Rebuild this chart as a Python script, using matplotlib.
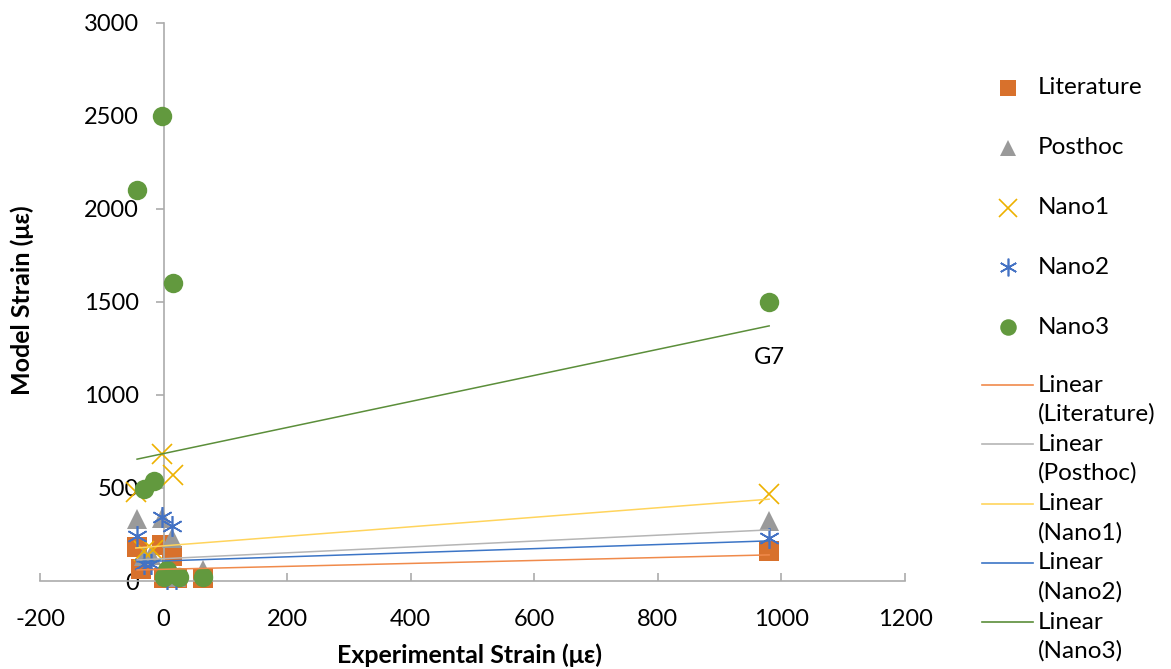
import numpy as np
import matplotlib.pyplot as plt
from matplotlib.lines import Line2D

plt.rcParams['font.family'] = ['Lato', 'DejaVu Sans']
plt.rcParams['axes.unicode_minus'] = False

# experimental vs model strain per gauge, one pair of lists per model
lit_x = [-43, -36, -3, 1, 14, 22, 63, 980]
lit_y = [183, 65, 196, 15, 135, 15, 15, 160]
post_x = [-43, -32, -20, -3, 14, 20, 63, 980]
post_y = [331, 135, 140, 340, 232, 20, 60, 320]
nano1_x = [-45, -32, -18, -2, 15, 980]
nano1_y = [480, 160, 165, 680, 570, 470]
nano2_x = [-43, -32, -21, -3, 14, 5, 20, 980]
nano2_y = [243, 90, 90, 345, 297, 10, 10, 232]
nano3_x = [-43, -3, 15, 980, -32, -16, 6, 0, 25, 63]
nano3_y = [2100, 2500, 1600, 1500, 493, 540, 61, 20, 20, 20]

# linear trend coefficients (slope, intercept)
trend_slope = [0.079, 0.158, 0.256, 0.110, 0.700]
trend_icpt = [63, 120, 189, 108, 685]

names = ['Literature', 'Posthoc', 'Nano1', 'Nano2', 'Nano3']
xs = [lit_x, post_x, nano1_x, nano2_x, nano3_x]
ys = [lit_y, post_y, nano1_y, nano2_y, nano3_y]
marker_colors = ['#D8712C', '#9A9A9A', '#EDB100', '#4472C4', '#62993E']
line_colors = ['#F08A4B', '#B5B5B5', '#FFD45C', '#3C75C6', '#5B8E3A']
markers = ['s', '^', 'x', (6, 2, 0), 'o']
msizes = [14, 14, 15, 15, 14]
stroked = [False, False, True, True, False]

fig = plt.figure(figsize=(11.71, 6.69), dpi=100)
ax = fig.add_axes([0.0342, 0.1315, 0.7387, 0.8345])

for i in range(5):
    ax.plot(xs[i], ys[i], marker=markers[i], markersize=msizes[i], linestyle='none',
            color=marker_colors[i], markeredgewidth=1.2 if stroked[i] else 0,
            zorder=2 + i, clip_on=False)

for i in range(5):
    tx = np.array([min(xs[i]), max(xs[i])])
    ax.plot(tx, trend_slope[i] * tx + trend_icpt[i], color=line_colors[i], lw=1.1, zorder=10)

ax.text(980, 1200, 'G7', ha='center', va='center', fontsize=17)

ax.set_xlim(-200, 1200)
ax.set_ylim(0, 3000)
ax.set_xticks(range(-200, 1201, 200))
ax.set_yticks(range(0, 3001, 500))
ax.spines['left'].set_position(('data', 0))
for s in ['top', 'right']:
    ax.spines[s].set_visible(False)
for s in ['left', 'bottom']:
    ax.spines[s].set_color('#ABABAB')
    ax.spines[s].set_linewidth(1.2)
ax.tick_params(axis='y', direction='out', length=6, width=1.2, color='#ABABAB',
               labelsize=17, pad=12)
ax.tick_params(axis='x', direction='in', length=6, width=1.2, color='#ABABAB',
               labelsize=17, pad=20)

fig.text(0.401, 0.021, 'Experimental Strain (με)', ha='center', va='center',
         fontsize=18, fontweight='bold')
fig.text(0.019, 0.551, 'Model Strain (με)', ha='center', va='center',
         fontsize=18, fontweight='bold', rotation=90)

# legend drawn by hand so the trend labels can wrap like the original
W, H = 1171, 669
for i in range(5):
    yy = 1 - (88 + 59.8 * i) / H
    fig.add_artist(Line2D([1008 / W], [yy], marker=markers[i], markersize=msizes[i] * 0.85,
                          linestyle='none', color=marker_colors[i],
                          markeredgewidth=1.2 if stroked[i] else 0,
                          transform=fig.transFigure))
    fig.text(1038 / W, yy, names[i], ha='left', va='center', fontsize=17.5)
for i in range(5):
    yy = 1 - (385 + 59.3 * i) / H
    fig.add_artist(Line2D([982 / W, 1033 / W], [yy, yy], color=line_colors[i], lw=1.2,
                          transform=fig.transFigure))
    fig.text(1038 / W, yy, 'Linear', ha='left', va='center', fontsize=17.5)
    fig.text(1038 / W, yy - 29 / H, '(' + names[i] + ')', ha='left', va='center', fontsize=17.5)

fig.savefig('out.png', dpi=100)
